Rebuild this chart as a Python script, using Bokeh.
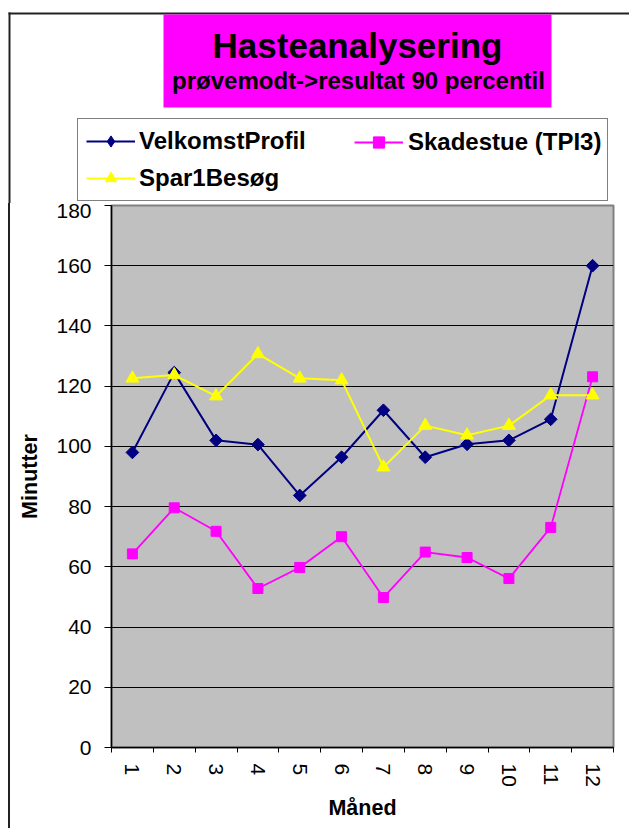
import numpy as np
from bokeh.plotting import figure
from bokeh.layouts import column
from bokeh.models import (Range1d, FixedTicker, Legend, LegendItem, Label,
                          BoxAnnotation, ColumnDataSource)
from bokeh.embed import file_html
from bokeh.resources import INLINE

# ---- data ----
months = [1, 2, 3, 4, 5, 6, 7, 8, 9, 10, 11, 12]
velkomst = [98, 124.5, 102, 100.6, 83.7, 96.4, 112, 96.4, 100.7, 102, 109, 160]
skadestue = [64.3, 79.6, 71.8, 52.8, 59.8, 70, 49.8, 64.9, 63.1, 56.1, 73.1, 123.1]
spar1 = [122.6, 123.7, 116.7, 130.7, 122.6, 122, 93.1, 106.9, 103.7, 106.9, 117, 117]
y_ticks = [0, 20, 40, 60, 80, 100, 120, 140, 160, 180]
series_names = ["VelkomstProfil", "Skadestue (TPI3)", "Spar1Besøg"]
title_text = "Hasteanalysering"
subtitle_text = "prøvemodt->resultat 90 percentil"
x_label = "Måned"
y_label = "Minutter"

FONT = "Liberation Sans"
NAVY, MAGENTA, YELLOW = "#000080", "#FF00FF", "#FFFF00"
W = 629
HEADER_H = 203
TOTAL_H = 828

src = ColumnDataSource(data=dict(month=months, velkomst=velkomst,
                                 skadestue=skadestue, spar1=spar1))

# ---------------- header (title + legend) ----------------
header = figure(width=W, height=HEADER_H, x_range=Range1d(0, W),
                y_range=Range1d(HEADER_H, 0), x_axis_type=None, y_axis_type=None,
                min_border=0, output_backend="svg", toolbar_location=None,
                title=None)
header.frame_align = False
header.outline_line_color = None
header.background_fill_color = "white"
header.border_fill_color = "white"
# legend keys live on a range far outside the header view
header.extra_x_ranges = {"keys": Range1d(1000, 2000)}

# chart border (left + top) and title box
header.add_layout(BoxAnnotation(left=8, right=10, top=12, bottom=HEADER_H,
                                fill_color="#222222", fill_alpha=1, line_color=None))
header.add_layout(BoxAnnotation(left=8, right=W, top=12, bottom=14,
                                fill_color="#222222", fill_alpha=1, line_color=None))
header.add_layout(BoxAnnotation(left=163, right=551, top=14, bottom=107,
                                fill_color=MAGENTA, fill_alpha=1, line_color=None))
header.add_layout(Label(x=357, y=45, text=title_text, text_font=FONT,
                        text_font_size="35px", text_font_style="bold",
                        text_align="center", text_baseline="alphabetic",
                        text_color="black"))
header.add_layout(Label(x=358, y=80, text=subtitle_text, text_font=FONT,
                        text_font_size="24px", text_font_style="bold",
                        text_align="center", text_baseline="alphabetic",
                        text_color="black"))

kw = dict(source=src, x_range_name="keys")
pv_l = header.line("month", "velkomst", line_color=NAVY, line_width=2, **kw)
pv_m = header.scatter("month", "velkomst", marker="diamond",
                      fill_color=NAVY, line_color=NAVY, **kw)
ps_l = header.line("month", "skadestue", line_color=MAGENTA, line_width=2, **kw)
ps_m = header.scatter("month", "skadestue", marker="square",
                      fill_color=MAGENTA, line_color=MAGENTA, **kw)
py_l = header.line("month", "spar1", line_color=YELLOW, line_width=2, **kw)
py_m = header.scatter("month", "spar1", marker="triangle",
                      fill_color=YELLOW, line_color=YELLOW, **kw)

leg_common = dict(glyph_width=49, glyph_height=28, label_text_font=FONT,
                  label_text_font_size="24px", label_text_font_style="bold",
                  label_text_color="black", margin=0)
legend_a = Legend(items=[LegendItem(label=series_names[0], renderers=[pv_l, pv_m]),
                         LegendItem(label=series_names[2], renderers=[py_l, py_m])],
                  location=(77, 2), orientation="vertical", padding=8, spacing=9,
                  label_standoff=4, label_width=460,
                  border_line_color="black", border_line_width=1.5,
                  background_fill_color="white", background_fill_alpha=1,
                  **leg_common)
legend_b = Legend(items=[LegendItem(label=series_names[1], renderers=[ps_l, ps_m])],
                  location=(354, 47), orientation="vertical", padding=0, spacing=0,
                  label_standoff=5, border_line_color=None,
                  background_fill_alpha=0, **leg_common)
header.add_layout(legend_a, "center")
header.add_layout(legend_b, "center")

# ---------------- main chart ----------------
p = figure(width=W, height=TOTAL_H - HEADER_H, output_backend="svg",
           toolbar_location=None, x_range=Range1d(0.5, 12.5),
           y_range=Range1d(0, 180), min_border_left=111, min_border_right=16,
           min_border_top=2, min_border_bottom=81, title=None)
p.frame_align = False

p.background_fill_color = "#C0C0C0"
p.border_fill_color = None
p.styles = {"background": "linear-gradient(#222222, #222222) 8px 0px / 2px 100% no-repeat, #ffffff"}
p.outline_line_color = "#808080"
p.outline_line_width = 2

p.xaxis.ticker = FixedTicker(ticks=months,
                             minor_ticks=[m - 0.5 for m in months] + [months[-1] + 0.5])
p.xaxis.major_label_overrides = {m: str(m) for m in months}
p.xaxis.major_label_orientation = "vertical"
p.xaxis.major_tick_line_color = None
p.xaxis.major_tick_out = 5
p.xaxis.major_tick_in = 0
p.xaxis.minor_tick_out = 5
p.xaxis.minor_tick_in = 0
p.xaxis.minor_tick_line_color = "black"
p.xaxis.major_label_standoff = 11
p.xaxis.axis_label = x_label
p.xaxis.axis_label_standoff = 6

p.yaxis.ticker = FixedTicker(ticks=y_ticks, minor_ticks=[])
p.yaxis.major_tick_out = 7
p.yaxis.major_tick_in = 0
p.yaxis.major_label_standoff = 13
p.yaxis.axis_label = y_label
p.yaxis.axis_label_standoff = 11

for ax in (p.xaxis, p.yaxis):
    ax.axis_line_color = "black"
    ax.axis_line_width = 1.5
    ax.major_tick_line_width = 1
    ax.major_label_text_font = FONT
    ax.major_label_text_font_size = "21px"
    ax.major_label_text_color = "black"
    ax.axis_label_text_font = FONT
    ax.axis_label_text_font_size = "21.5px"
    ax.axis_label_text_font_style = "bold"
    ax.axis_label_text_color = "black"

p.xgrid.grid_line_color = None
p.ygrid.grid_line_color = "black"
p.ygrid.grid_line_width = 1
p.ygrid.bounds = (y_ticks[0], y_ticks[-2])

p.line("month", "velkomst", source=src, line_color=NAVY, line_width=2)
p.scatter("month", "velkomst", source=src, marker="square", angle=np.pi / 4, size=9,
          fill_color=NAVY, line_color=NAVY)
p.line("month", "skadestue", source=src, line_color=MAGENTA, line_width=1.8)
p.scatter("month", "skadestue", source=src, marker="square", size=10,
          fill_color=MAGENTA, line_color=MAGENTA)
p.line("month", "spar1", source=src, line_color=YELLOW, line_width=2)
p.scatter("month", "spar1", source=src, marker="triangle", size=13,
          fill_color=YELLOW, line_color=YELLOW)

layout = column(header, p, spacing=0)
open("out.html", "w").write(file_html(layout, INLINE))
